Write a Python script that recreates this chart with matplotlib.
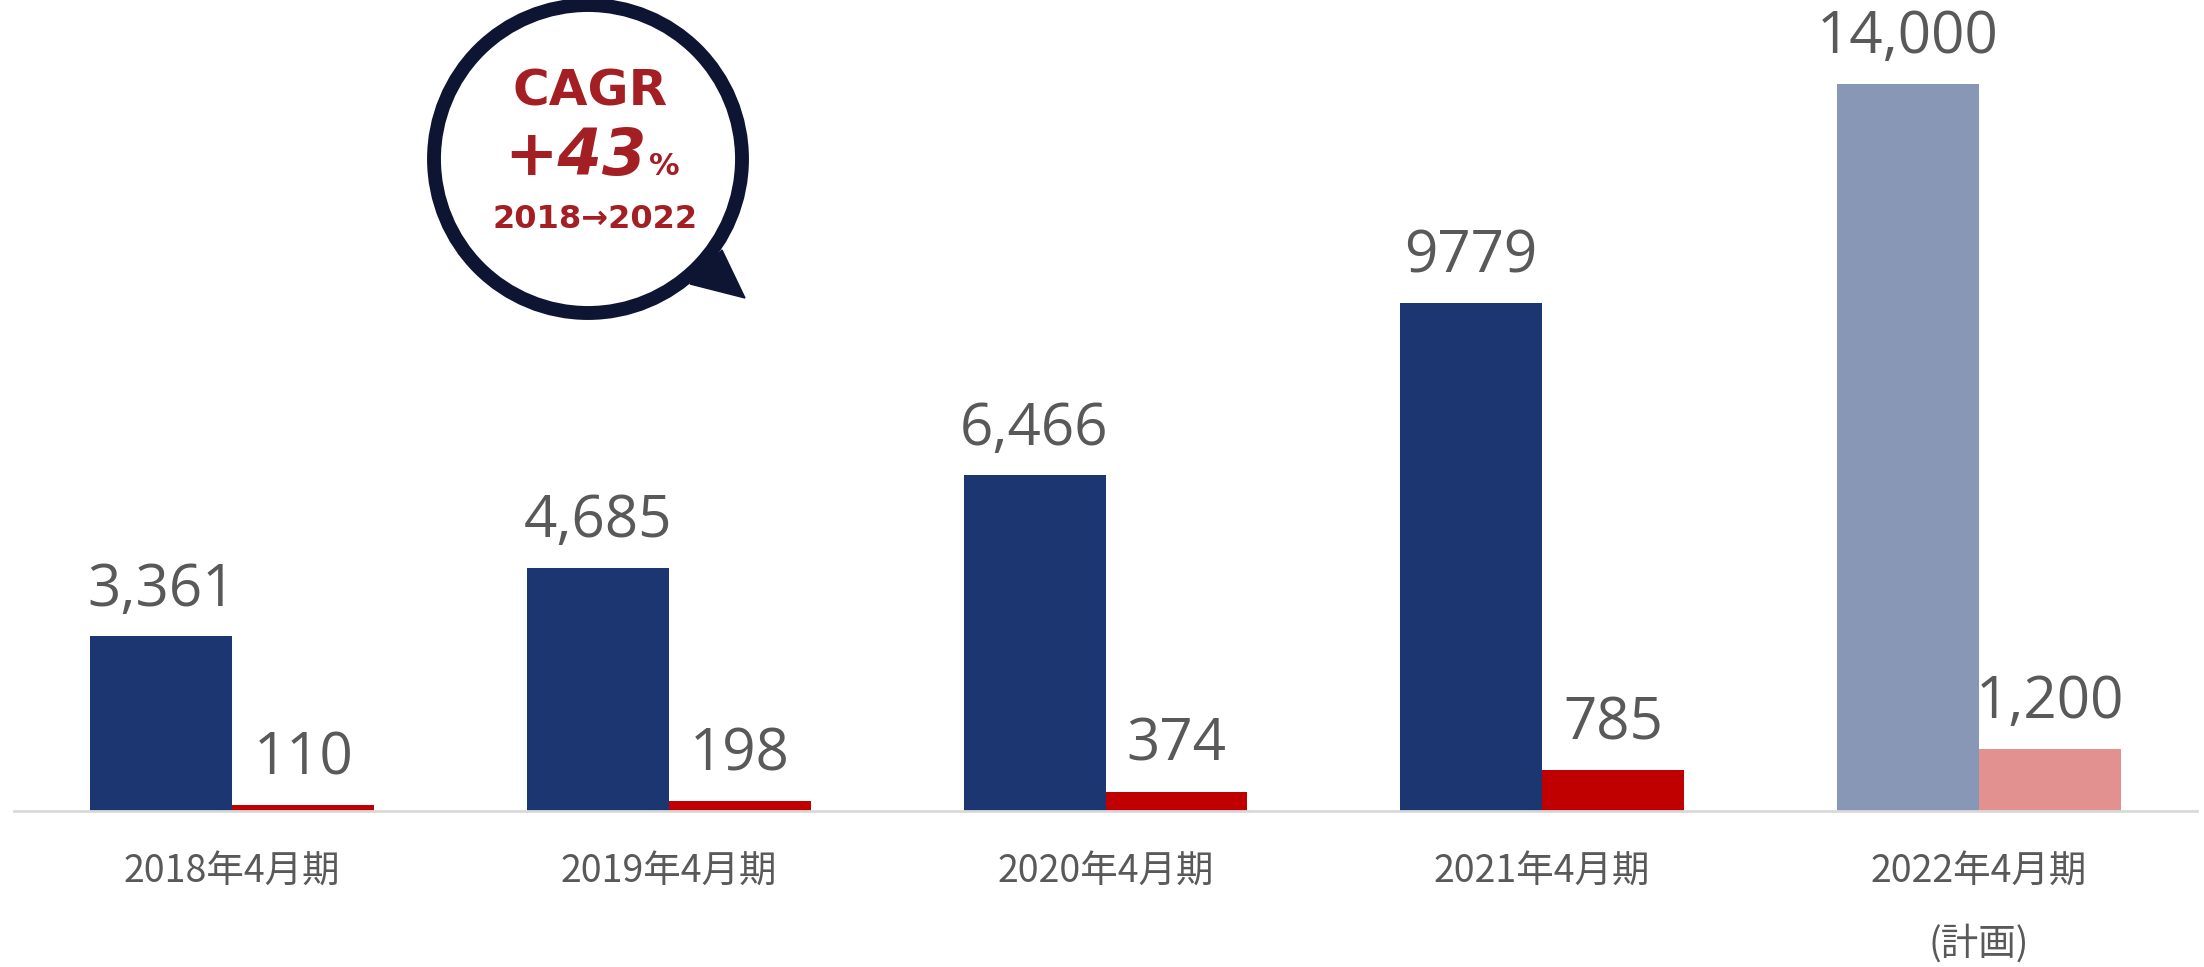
import numpy as np
import matplotlib.pyplot as plt
from matplotlib.patches import Circle, Polygon

plt.rcParams['font.family'] = ['Open Sans', 'Noto Sans CJK JP', 'DejaVu Sans']

# data
periods = ['2018年4月期', '2019年4月期', '2020年4月期', '2021年4月期', '2022年4月期\n(計画)']
sales = [3361, 4685, 6466, 9779, 14000]
profit = [110, 198, 374, 785, 1200]
sales_labels = ['3,361', '4,685', '6,466', '9779', '14,000']
profit_labels = ['110', '198', '374', '785', '1,200']

W, H = 2204, 967
fig = plt.figure(figsize=(W / 100, H / 100), dpi=100)
ax = fig.add_axes([14 / W, (H - 811) / H, 2183 / W, 811 / H])

x = np.arange(len(periods))
bw = 0.325
blue_c = ['#1B3670'] * 4 + ['#8797B5']
red_c = ['#C00000'] * 4 + ['#E39090']

ax.bar(x - bw / 2, sales, bw, color=blue_c)
ax.bar(x + bw / 2, profit, bw, color=red_c)

for i in range(len(x)):
    ax.annotate(sales_labels[i], (x[i] - bw / 2, sales[i]), xytext=(0, 12),
                textcoords='offset points', ha='center', va='bottom',
                fontsize=42, color='#595959')
    ax.annotate(profit_labels[i], (x[i] + bw / 2, profit[i]), xytext=(0, 12),
                textcoords='offset points', ha='center', va='bottom',
                fontsize=42, color='#595959')

ax.set_xlim(-0.5, 4.5)
ax.set_ylim(0, 14000 * 811 / 727)
for s in ['top', 'right', 'left']:
    ax.spines[s].set_visible(False)
ax.spines['bottom'].set_color('#D9D9D9')
ax.spines['bottom'].set_linewidth(2)
ax.set_yticks([])
ax.set_xticks(x)
ax.set_xticklabels(periods, fontsize=27, color='#595959', linespacing=2.1,
                   family=['Noto Sans CJK JP', 'DejaVu Sans'])
ax.tick_params(axis='x', length=0, pad=30)
for t in ax.get_xticklabels():
    t.set_verticalalignment('top')

# speech bubble overlay (pixel coordinates)
ov = fig.add_axes([0, 0, 1, 1])
ov.set_xlim(0, W)
ov.set_ylim(H, 0)
ov.axis('off')
navy = '#0D1533'
ov.add_patch(Polygon([[722, 250], [690, 284], [745, 298]], closed=True,
                     facecolor=navy, edgecolor=navy))
ov.add_patch(Circle((588, 159), 154, facecolor='white', edgecolor=navy, lw=10))

red = '#A31F24'
ov.text(590, 105, 'CAGR', ha='center', va='baseline', fontsize=36,
        fontweight='bold', color=red, family='DejaVu Sans')
ov.text(575, 175, '+43', ha='center', va='baseline', fontsize=46,
        fontweight='bold', style='italic', color=red, family='DejaVu Sans')
ov.text(664, 175, '%', ha='center', va='baseline', fontsize=22,
        fontweight='bold', color=red, family='DejaVu Sans')
ov.text(595, 228, '2018→2022', ha='center', va='baseline', fontsize=23,
        fontweight='bold', color=red, family='DejaVu Sans')

fig.savefig('out.png', dpi=100)
